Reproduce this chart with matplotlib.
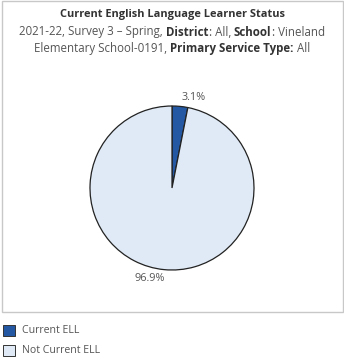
import numpy as np
import matplotlib
matplotlib.use("Agg")
import matplotlib.pyplot as plt
from matplotlib.patches import Rectangle

plt.rcParams['font.family'] = ['Open Sans', 'DejaVu Sans']

labels = ["Current ELL", "Not Current ELL"]
shares = [3.1, 96.9]
colors = ["#2458a2", "#dfeaf6"]

title = "Current English Language Learner Status"
# subtitle runs: (text, bold)
sub_lines = [
    [("2021-22, Survey 3 \u2013 Spring, ", False), ("District", True), (": All, ", False),
     ("School", True), (": Vineland", False)],
    [("Elementary School-0191, ", False), ("Primary Service Type:", True), (" All", False)],
]

W, H = 344, 364
fig = plt.figure(figsize=(W / 100, H / 100), dpi=100)
fig.patch.set_facecolor("white")

# outer frame around the chart area
fig.add_artist(Rectangle((2 / W, 1 - 312 / H), 341 / W, 312 / H - 0.5 / H,
                         transform=fig.transFigure, fill=False,
                         edgecolor="#c8c8c8", linewidth=1))

# pie: center (172, 188), radius 82 px
r = 82
ax = fig.add_axes([(172 - r) / W, 1 - (188 + r) / H, 2 * r / W, 2 * r / H])
wedges, _ = ax.pie(shares, colors=colors, startangle=90, counterclock=False,
                   wedgeprops=dict(edgecolor="#222222", linewidth=0.9))
ax.set_aspect("equal")
ax.set_xlim(-1, 1)
ax.set_ylim(-1, 1)
ax.axis("off")

# value labels just outside each slice
for w, v in zip(wedges, shares):
    ang = np.deg2rad((w.theta1 + w.theta2) / 2 - 8)
    ax.text(1.14 * np.cos(ang), 1.14 * np.sin(ang), f"{v}%",
            ha="center", va="center", fontsize=7.8, color="#555555", clip_on=False)

fig.text(0.5, 1 - 15 / H, title, ha="center", va="center",
         fontsize=7.9, fontweight="bold", color="#333333")

# subtitle lines with mixed bold / regular runs, centered
fig.canvas.draw()
rend = fig.canvas.get_renderer()
for i, runs in enumerate(sub_lines):
    y = 1 - (32 + 16.5 * i) / H
    texts = []
    for s, b in runs:
        t = fig.text(0, y, s, ha="left", va="center", fontsize=8.3,
                     fontweight="bold" if b else "normal",
                     color="#333333" if b else "#555555")
        texts.append(t)
    widths = [t.get_window_extent(rend).width for t in texts]
    x = (W - sum(widths)) / 2
    for t, w in zip(texts, widths):
        t.set_x(x / W)
        x += w

# legend
for i, (lab, c) in enumerate(zip(labels, colors)):
    top = 325 + 20 * i
    fig.add_artist(Rectangle((3 / W, 1 - (top + 11) / H), 12 / W, 11 / H,
                             transform=fig.transFigure, facecolor=c,
                             edgecolor="#333333", linewidth=0.7))
    fig.text(22 / W, 1 - (top + 5.5) / H, lab, ha="left", va="center",
             fontsize=7.6, color="#555555")

fig.savefig("out.png", dpi=100)
